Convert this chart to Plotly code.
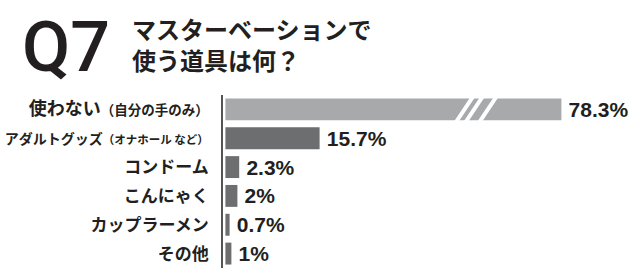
import plotly.graph_objects as go

# ---- data ----
categories = ["使わない", "アダルトグッズ", "コンドーム", "こんにゃく", "カップラーメン", "その他"]
notes = ["（自分の手のみ）", "（オナホール など）", "", "", "", ""]
values = [78.3, 15.7, 2.3, 2.0, 0.7, 1.0]
value_labels = ["78.3%", "15.7%", "2.3%", "2%", "0.7%", "1%"]
title_q = "Q7"
title_lines = ["マスターベーションで", "使う道具は何？"]

# ---- style ----
BREAK_CAP = 56.0          # displayed length of a broken (truncated) bar
BREAK_MARKS = [38.1, 39.7, 42.0]
MARK_W, MARK_SLANT = 0.8, 2.7
main_sizes = [18, 14, 17, 17, 17, 17]
note_sizes = [13.5, 11.5, 0, 0, 0, 0]
colors = ["#a8a9ab"] + ["#6d6e70"] * 5
TXT = "#231f20"

positions = list(range(len(categories)))
display = [min(v, BREAK_CAP) for v in values]

ticktext = []
for c, n, ms, ns in zip(categories, notes, main_sizes, note_sizes):
    s = f"<span style='font-size:{ms}px'>{c}</span>"
    if n:
        s += f"<span style='font-size:{ns}px'>{n}</span>"
    ticktext.append(s)

fig = go.Figure(go.Bar(
    x=display, y=positions, orientation="h",
    marker=dict(color=colors, line=dict(width=0)),
    text=["\u2009" + t for t in value_labels], textposition="outside",
    constraintext="none", cliponaxis=False,
    textfont=dict(family="Liberation Sans", size=21, color=TXT, weight="bold"),
    hoverinfo="skip",
))

shapes = []
for i, (v, d) in enumerate(zip(values, display)):
    if v > d:
        yb, yt = i + 0.42, i - 0.42
        for b in BREAK_MARKS:
            shapes.append(dict(
                type="path", xref="x", yref="y", fillcolor="white", line=dict(width=0),
                path=f"M {b},{yb} L {b+MARK_W},{yb} L {b+MARK_W+MARK_SLANT},{yt} L {b+MARK_SLANT},{yt} Z",
            ))

fig.update_layout(
    width=640, height=277,
    margin=dict(l=223, r=0, t=95, b=9),
    paper_bgcolor="white", plot_bgcolor="white",
    bargap=0.24, showlegend=False, shapes=shapes,
    xaxis=dict(visible=False, range=[-0.4, 69.1]),
    yaxis=dict(
        range=[5.5, -0.5], tickvals=positions, ticktext=ticktext,
        showline=True, linecolor="#555555", linewidth=1.5,
        showgrid=False, zeroline=False, ticks="", ticklabelstandoff=9,
        tickfont=dict(family="Noto Sans CJK JP", size=17, color=TXT, weight="bold"),
    ),
    annotations=[
        dict(text=title_q, xref="paper", yref="paper", x=(20 - 223) / 417, y=(268 - 47) / 173,
             xanchor="left", yanchor="middle", showarrow=False,
             font=dict(family="Roboto", size=70, color=TXT, weight=500)),
        dict(text="<br>".join(title_lines), xref="paper", yref="paper", x=(130 - 223) / 417,
             y=(268 - 44) / 173, xanchor="left", yanchor="middle", align="left", showarrow=False,
             font=dict(family="Noto Sans CJK JP", size=24, color=TXT, weight="bold")),
    ],
)

fig.write_html("out.html")
